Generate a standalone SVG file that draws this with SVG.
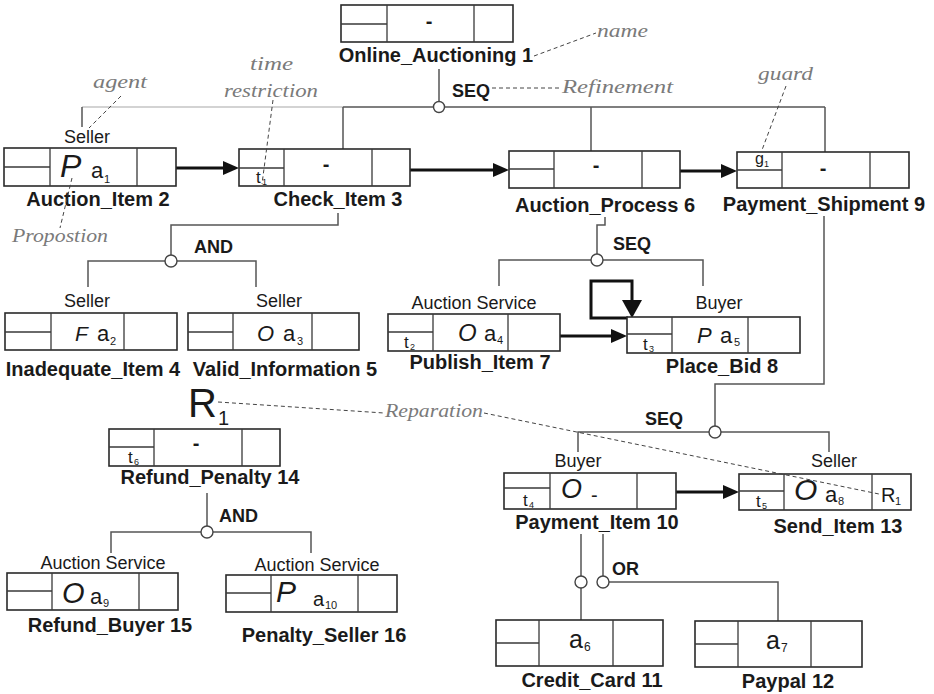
<svg xmlns="http://www.w3.org/2000/svg" width="934" height="694" viewBox="0 0 934 694">
<defs>
<style>
.box{fill:#fff;stroke:#2a2a2a;stroke-width:1.6}
.div{stroke:#3a3a3a;stroke-width:1.3;fill:none}
.name{font-family:"Liberation Sans",Arial,sans-serif;font-weight:bold;font-size:20px;fill:#1a1a1a;text-anchor:middle}
.agent{font-family:"Liberation Sans",Arial,sans-serif;font-size:18px;fill:#1a1a1a;text-anchor:middle}
.op{font-family:"Liberation Sans",Arial,sans-serif;font-weight:bold;font-size:18px;fill:#1a1a1a}
.mod{font-family:"Liberation Sans",Arial,sans-serif;font-style:italic;fill:#1a1a1a}
.act{font-family:"Liberation Sans",Arial,sans-serif;fill:#1a1a1a}
.sub{font-family:"Liberation Sans",Arial,sans-serif;fill:#1a1a1a}
.dash{font-family:"Liberation Sans",Arial,sans-serif;font-weight:bold;font-size:20px;fill:#1a1a1a;text-anchor:middle}
.con{stroke:#555;stroke-width:1.5;fill:none}
.light{stroke:#c4c4c4;stroke-width:1.5;fill:none}
.gate{fill:#fff;stroke:#444;stroke-width:1.4}
.arr{stroke:#111;stroke-width:3;fill:none}
.note{font-family:"Liberation Serif",serif;font-style:italic;font-size:19px;fill:#7a7a7a}
.nl{stroke:#444;stroke-width:1;stroke-dasharray:4 3;fill:none}
</style>
<marker id="ah" viewBox="0 0 16 14" refX="0" refY="7" markerWidth="16" markerHeight="14" markerUnits="userSpaceOnUse" orient="auto">
<path d="M0,0 L16,7 L0,14 Z" fill="#111"/>
</marker>
<marker id="ah2" viewBox="0 0 18 20" refX="0" refY="10" markerWidth="18" markerHeight="20" markerUnits="userSpaceOnUse" orient="auto">
<path d="M0,0 L18,10 L0,20 Z" fill="#111"/>
</marker>
</defs>
<rect width="934" height="694" fill="#fff"/>

<g id="connectors">
<line class="con" x1="439" y1="69" x2="439" y2="107"/>
<line class="light" x1="82" y1="107" x2="343" y2="107"/>
<line class="con" x1="82" y1="107" x2="82" y2="127"/>
<line class="con" x1="343" y1="107" x2="825" y2="107"/>
<line class="con" x1="343" y1="107" x2="343" y2="149"/>
<line class="con" x1="591" y1="107" x2="591" y2="151"/>
<line class="con" x1="825" y1="107" x2="825" y2="152"/>
<circle class="gate" cx="439" cy="107" r="5.5"/>
<text class="op" x="452" y="97">SEQ</text>

<polyline class="con" points="338,213 338,225 171,225 171,261"/>
<polyline class="con" points="88,287 88,261 256,261 256,287"/>
<circle class="gate" cx="171" cy="261" r="6"/>
<text class="op" x="194" y="253">AND</text>

<polyline class="con" points="605,217 605,225 597,225 597,260"/>
<polyline class="con" points="499,286 499,260 703,260 703,286"/>
<circle class="gate" cx="597" cy="260" r="6"/>
<text class="op" x="613" y="250">SEQ</text>

<polyline class="con" points="824,216 824,384 715,384 715,432"/>
<polyline class="con" points="578,452 578,432 829,432 829,452"/>
<circle class="gate" cx="715" cy="432" r="6"/>
<text class="op" x="645" y="425">SEQ</text>

<line class="con" x1="207" y1="493" x2="207" y2="532"/>
<polyline class="con" points="111,553 111,532 311,532 311,553"/>
<circle class="gate" cx="207" cy="532" r="6"/>
<text class="op" x="219" y="522">AND</text>

<line class="con" x1="581" y1="534" x2="581" y2="620"/>
<line class="con" x1="603" y1="534" x2="603" y2="582"/>
<polyline class="con" points="603,582 778,582 778,621"/>
<circle class="gate" cx="581" cy="582" r="6"/>
<circle class="gate" cx="603" cy="582" r="6"/>
<text class="op" x="612" y="575">OR</text>

<line class="arr" x1="176" y1="168" x2="223" y2="168" marker-end="url(#ah)"/>
<line class="arr" x1="410" y1="170" x2="493" y2="170" marker-end="url(#ah)"/>
<line class="arr" x1="680" y1="171" x2="721" y2="171" marker-end="url(#ah)"/>
<line class="arr" x1="560" y1="336" x2="611" y2="336" stroke-width="2.6" marker-end="url(#ah)"/>
<line class="arr" x1="676" y1="492" x2="723" y2="492" marker-end="url(#ah)"/>
<path class="arr" d="M628,318 L591,318 L591,281 L632,281 L632,300" stroke-width="3.5" marker-end="url(#ah2)"/>
</g>

<g id="n1">
<rect class="box" x="341" y="5" width="172" height="37"/>
<path class="div" d="M387,5 V42 M474,5 V42 M341,24 H387"/>
<text class="dash" x="429" y="28">-</text>
<text class="name" x="436" y="62">Online_Auctioning 1</text>
</g>

<g id="n2">
<text class="agent" x="87" y="143">Seller</text>
<rect class="box" x="4" y="148" width="172" height="38"/>
<path class="div" d="M50,148 V186 M137,148 V186 M4,167 H50"/>
<text class="mod" x="60" y="177" font-size="32">P</text>
<text class="act" x="91" y="178" font-size="22">a</text>
<text class="sub" x="104" y="183" font-size="11">1</text>
<text class="name" x="98" y="206">Auction_Item 2</text>
</g>

<g id="n3">
<rect class="box" x="239" y="149" width="171" height="37"/>
<path class="div" d="M284,149 V186 M372,149 V186 M239,168 H284"/>
<text class="sub" x="256" y="183" font-size="17">t</text>
<text class="sub" x="262" y="185" font-size="9">1</text>
<text class="dash" x="326" y="171">-</text>
<text class="name" x="338" y="206">Check_Item 3</text>
</g>

<g id="n4">
<text class="agent" x="87" y="307">Seller</text>
<rect class="box" x="5" y="313" width="172" height="37"/>
<path class="div" d="M51,313 V350 M124,313 V350 M5,332 H51"/>
<text class="mod" x="75" y="341" font-size="21">F</text>
<text class="act" x="97" y="341" font-size="22">a</text>
<text class="sub" x="110" y="345" font-size="11">2</text>
<text class="name" x="93" y="376">Inadequate_Item 4</text>
</g>

<g id="n5">
<text class="agent" x="279" y="307">Seller</text>
<rect class="box" x="188" y="313" width="171" height="37"/>
<path class="div" d="M233,313 V350 M312,313 V350 M188,332 H233"/>
<text class="mod" x="257" y="341" font-size="22">O</text>
<text class="act" x="283" y="341" font-size="22">a</text>
<text class="sub" x="297" y="345" font-size="11">3</text>
<text class="name" x="285" y="376">Valid_Information 5</text>
</g>

<g id="n6">
<rect class="box" x="509" y="151" width="171" height="37"/>
<path class="div" d="M554,151 V188 M642,151 V188 M509,169 H554"/>
<text class="dash" x="596" y="172">-</text>
<text class="name" x="605" y="212">Auction_Process 6</text>
</g>

<g id="n7">
<text class="agent" x="474" y="309">Auction Service</text>
<rect class="box" x="388" y="314" width="172" height="37"/>
<path class="div" d="M433,314 V351 M508,314 V351 M388,332 H433"/>
<text class="sub" x="404" y="348" font-size="17">t</text>
<text class="sub" x="410" y="350" font-size="9">2</text>
<text class="mod" x="458" y="341" font-size="24">O</text>
<text class="act" x="484" y="341" font-size="22">a</text>
<text class="sub" x="497" y="344" font-size="11">4</text>
<text class="name" x="480" y="369">Publish_Item 7</text>
</g>

<g id="n8">
<text class="agent" x="719" y="309">Buyer</text>
<rect class="box" x="627" y="317" width="173" height="36"/>
<path class="div" d="M672,317 V353 M748,317 V353 M627,334 H672"/>
<text class="sub" x="643" y="350" font-size="17">t</text>
<text class="sub" x="649" y="352" font-size="9">3</text>
<text class="mod" x="697" y="343" font-size="22">P</text>
<text class="act" x="720" y="343" font-size="22">a</text>
<text class="sub" x="734" y="346" font-size="11">5</text>
<text class="name" x="722" y="373">Place_Bid 8</text>
</g>

<g id="n9">
<rect class="box" x="737" y="152" width="172" height="36"/>
<path class="div" d="M782,152 V188 M870,152 V188 M737,170 H782"/>
<text class="sub" x="755" y="164" font-size="16">g</text>
<text class="sub" x="764" y="167" font-size="9">1</text>
<text class="dash" x="823" y="175">-</text>
<text class="name" x="824" y="211">Payment_Shipment 9</text>
</g>

<g id="n10">
<text class="agent" x="578" y="467">Buyer</text>
<rect class="box" x="504" y="473" width="172" height="36"/>
<path class="div" d="M550,473 V509 M637,473 V509 M504,488 H550"/>
<text class="sub" x="523" y="506" font-size="17">t</text>
<text class="sub" x="529" y="508" font-size="9">4</text>
<text class="mod" x="561" y="498" font-size="27">O</text>
<text class="act" x="591" y="502" font-size="20">-</text>
<text class="name" x="597" y="529">Payment_Item 10</text>
</g>

<g id="n11">
<rect class="box" x="496" y="620" width="167" height="46"/>
<path class="div" d="M539,620 V666 M613,620 V666 M496,643 H539"/>
<text class="act" x="569" y="648" font-size="25">a</text>
<text class="sub" x="584" y="651" font-size="12">6</text>
<text class="name" x="592" y="687">Credit_Card 11</text>
</g>

<g id="n12">
<rect class="box" x="695" y="621" width="167" height="46"/>
<path class="div" d="M738,621 V667 M811,621 V667 M695,644 H738"/>
<text class="act" x="766" y="649" font-size="25">a</text>
<text class="sub" x="781" y="652" font-size="12">7</text>
<text class="name" x="788" y="688">Paypal 12</text>
</g>

<g id="n13">
<text class="agent" x="834" y="467">Seller</text>
<rect class="box" x="739" y="474" width="172" height="36"/>
<path class="div" d="M784,474 V510 M872,474 V510 M739,491 H784"/>
<text class="sub" x="756" y="507" font-size="17">t</text>
<text class="sub" x="762" y="509" font-size="9">5</text>
<text class="mod" x="794" y="500" font-size="30">O</text>
<text class="act" x="825" y="502" font-size="22">a</text>
<text class="sub" x="838" y="505" font-size="11">8</text>
<text class="act" x="881" y="502" font-size="20">R</text>
<text class="sub" x="895" y="505" font-size="11">1</text>
<text class="name" x="838" y="533">Send_Item 13</text>
</g>

<g id="n14">
<text class="act" x="188" y="417" font-size="40">R</text>
<text class="sub" x="218" y="425" font-size="20">1</text>
<rect class="box" x="109" y="429" width="171" height="37"/>
<path class="div" d="M154,429 V466 M242,429 V466 M109,447 H154"/>
<text class="sub" x="128" y="463" font-size="17">t</text>
<text class="sub" x="134" y="465" font-size="9">6</text>
<text class="dash" x="196" y="450">-</text>
<text class="name" x="210" y="484">Refund_Penalty 14</text>
</g>

<g id="n15">
<text class="agent" x="103" y="569">Auction Service</text>
<rect class="box" x="7" y="573" width="171" height="37"/>
<path class="div" d="M52,573 V610 M139,573 V610 M7,591 H52"/>
<text class="mod" x="62" y="603" font-size="29">O</text>
<text class="act" x="90" y="604" font-size="22">a</text>
<text class="sub" x="103" y="607" font-size="11">9</text>
<text class="name" x="110" y="632">Refund_Buyer 15</text>
</g>

<g id="n16">
<text class="agent" x="317" y="571">Auction Service</text>
<rect class="box" x="226" y="575" width="171" height="37"/>
<path class="div" d="M271,575 V612 M358,575 V612 M226,593 H271"/>
<text class="mod" x="276" y="602" font-size="30">P</text>
<text class="act" x="313" y="606" font-size="20">a</text>
<text class="sub" x="325" y="609" font-size="11">10</text>
<text class="name" x="324" y="642">Penalty_Seller 16</text>
</g>

<g id="annotations">
<path class="nl" d="M534,56 L596,33"/>
<text class="note" x="597" y="37" textLength="51" lengthAdjust="spacingAndGlyphs">name</text>
<path class="nl" d="M492,88 L561,88"/>
<text class="note" x="562" y="93" textLength="111" lengthAdjust="spacingAndGlyphs">Refinement</text>
<path class="nl" d="M786,86 L762,150"/>
<text class="note" x="758" y="80" textLength="55" lengthAdjust="spacingAndGlyphs">guard</text>
<path class="nl" d="M121,96 L89,128"/>
<text class="note" x="93" y="88" textLength="54" lengthAdjust="spacingAndGlyphs">agent</text>
<path class="nl" d="M273,100 L262,184"/>
<text class="note" x="250" y="70" textLength="43" lengthAdjust="spacingAndGlyphs">time</text>
<text class="note" x="224" y="97" textLength="94" lengthAdjust="spacingAndGlyphs">restriction</text>
<path class="nl" d="M72,178 L60,228"/>
<text class="note" x="12" y="242" textLength="96" lengthAdjust="spacingAndGlyphs">Propostion</text>
<path class="nl" d="M218,402 L384,413"/>
<text class="note" x="385" y="417" textLength="98" lengthAdjust="spacingAndGlyphs">Reparation</text>
<path class="nl" d="M484,413 L879,494"/>
</g>
</svg>
